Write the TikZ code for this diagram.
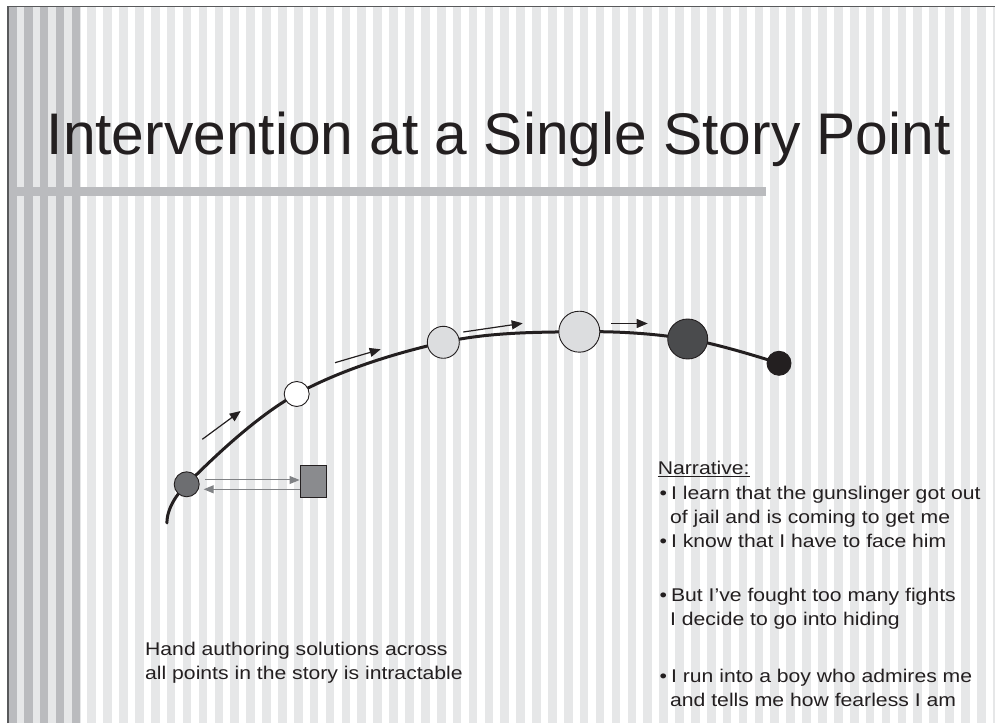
\documentclass[tikz,border=0pt]{standalone}
\usepackage{fontspec}
\setmainfont{Liberation Sans}
\newfontfamily\bodyfont[FakeStretch=1.15]{Liberation Sans}
\usetikzlibrary{arrows.meta}

\definecolor{inkblack}{HTML}{231F20}
\definecolor{stripelight}{HTML}{E6E7E8}
\definecolor{stripedark}{HTML}{BABBBE}
\definecolor{framegray}{HTML}{58595B}
\definecolor{pointdark}{HTML}{6D6E71}
\definecolor{pointlight}{HTML}{DCDDDF}
\definecolor{pointshade}{HTML}{4A4B4D}
\definecolor{boxgray}{HTML}{8A8B8E}
\definecolor{linkgray}{HTML}{808285}

\tikzset{
  storyline/.style={inkblack, line width=3pt, line cap=round},
  storypoint/.style={circle, draw=inkblack, line width=0.9pt, inner sep=0pt},
  flowarrow/.style={inkblack, line width=1.2pt, -{Triangle[length=11pt,width=9pt]}},
  linkarrow/.style={linkgray, line width=1pt, -{Triangle[length=10pt,width=8pt]}},
  bodytext/.style={inkblack, inner sep=0pt, anchor=base west, align=left,
    font=\bodyfont\fontsize{18.4}{24}\selectfont},
}

\begin{document}
\begin{tikzpicture}[x=1pt, y=1pt]
  \useasboundingbox (0,0) rectangle (995,723);
  % draw striped backdrop
  \fill[white] (0,0) rectangle (995,723);
  \fill[stripelight] (8,0) rectangle (81,716);
  \foreach \k in {0,...,4}
    \fill[stripedark] ({8+15.885*\k},0) rectangle +(8.7,716);
  \foreach \k in {5,...,62}
    \fill[stripelight] ({8+15.885*\k},0) rectangle +(8.6,716);
  \fill[stripedark] (8,527) rectangle (766,536);
  \draw[framegray, line width=1.3pt] (7.9,0) -- (7.9,716.3) -- (995,716.3);
  % title
  \node[inkblack, inner sep=0pt, anchor=base west, font=\fontsize{58.7}{60}\selectfont] (title) at (46.5,568) {Intervention at a Single Story Point};
  % draw the story line through the points
  \coordinate (tail) at (167,200);
  \coordinate (c1) at (186.7,238.7);
  \coordinate (c2) at (296.7,329);
  \coordinate (c3) at (443.3,380.7);
  \coordinate (c4) at (579.3,391.3);
  \coordinate (c5) at (687.7,384);
  \coordinate (c6) at (779,359.7);
  \draw[storyline] plot[smooth, tension=0.6] coordinates {(tail) (c1) (c2) (c3) (c4) (c5) (c6)};
  \node[storypoint, minimum size=25pt, fill=pointdark] (p1) at (c1) {};
  \node[storypoint, minimum size=25pt, fill=white] (p2) at (c2) {};
  \node[storypoint, minimum size=32pt, fill=pointlight] (p3) at (c3) {};
  \node[storypoint, minimum size=41pt, fill=pointlight] (p4) at (c4) {};
  \node[storypoint, minimum size=40pt, fill=pointshade] (p5) at (c5) {};
  \node[storypoint, minimum size=24pt, fill=inkblack] (p6) at (c6) {};
  % direction of the story
  \foreach \i/\ax/\ay/\bx/\by in {1/202.3/283.7/240.7/312, 2/335/360.3/380.7/373.7,
                                   3/463.3/391/522.7/399.7, 4/611/399.5/647.7/399.5} {
    \coordinate (flow\i s) at (\ax,\ay);
    \coordinate (flow\i e) at (\bx,\by);
    \draw[flowarrow] (flow\i s) -- (flow\i e);
  }
  % intervention box and its links
  \node[draw=inkblack, line width=0.9pt, fill=boxgray, minimum width=26pt, minimum height=32pt, inner sep=0pt] (sq) at (313,241.8) {};
  \coordinate (linktop) at ([shift={(5.5pt,4.3pt)}]p1.east);
  \coordinate (linkbot) at ([shift={(4pt,-5pt)}]p1.east);
  \draw[linkarrow] (linktop) -- (linktop -| sq.west);
  \draw[linkarrow] (linkbot -| sq.west) -- (linkbot);
  % texts (base anchor sits on the last line)
  \node[bodytext] (summary) at (145,44) {Hand authoring solutions across\\all points in the story is intractable};
  \node[bodytext] (narrhead) at (657.7,248) {\underline{Narrative:}};
  \node[bodytext] (beat1) at (659.5,200) {\textbullet\hspace{4pt}I learn that the gunslinger got out\\\hspace*{10.5pt}of jail and is coming to get me};
  \node[bodytext] (beat2) at (659.5,176) {\textbullet\hspace{4pt}I know that I have to face him};
  \node[bodytext] (beat3) at (659.5,97.3) {\textbullet\hspace{4pt}But I’ve fought too many fights\\\hspace*{10.5pt}I decide to go into hiding};
  \node[bodytext] (beat4) at (659.5,16.3) {\textbullet\hspace{4pt}I run into a boy who admires me\\\hspace*{10.5pt}and tells me how fearless I am};
\end{tikzpicture}
\end{document}
